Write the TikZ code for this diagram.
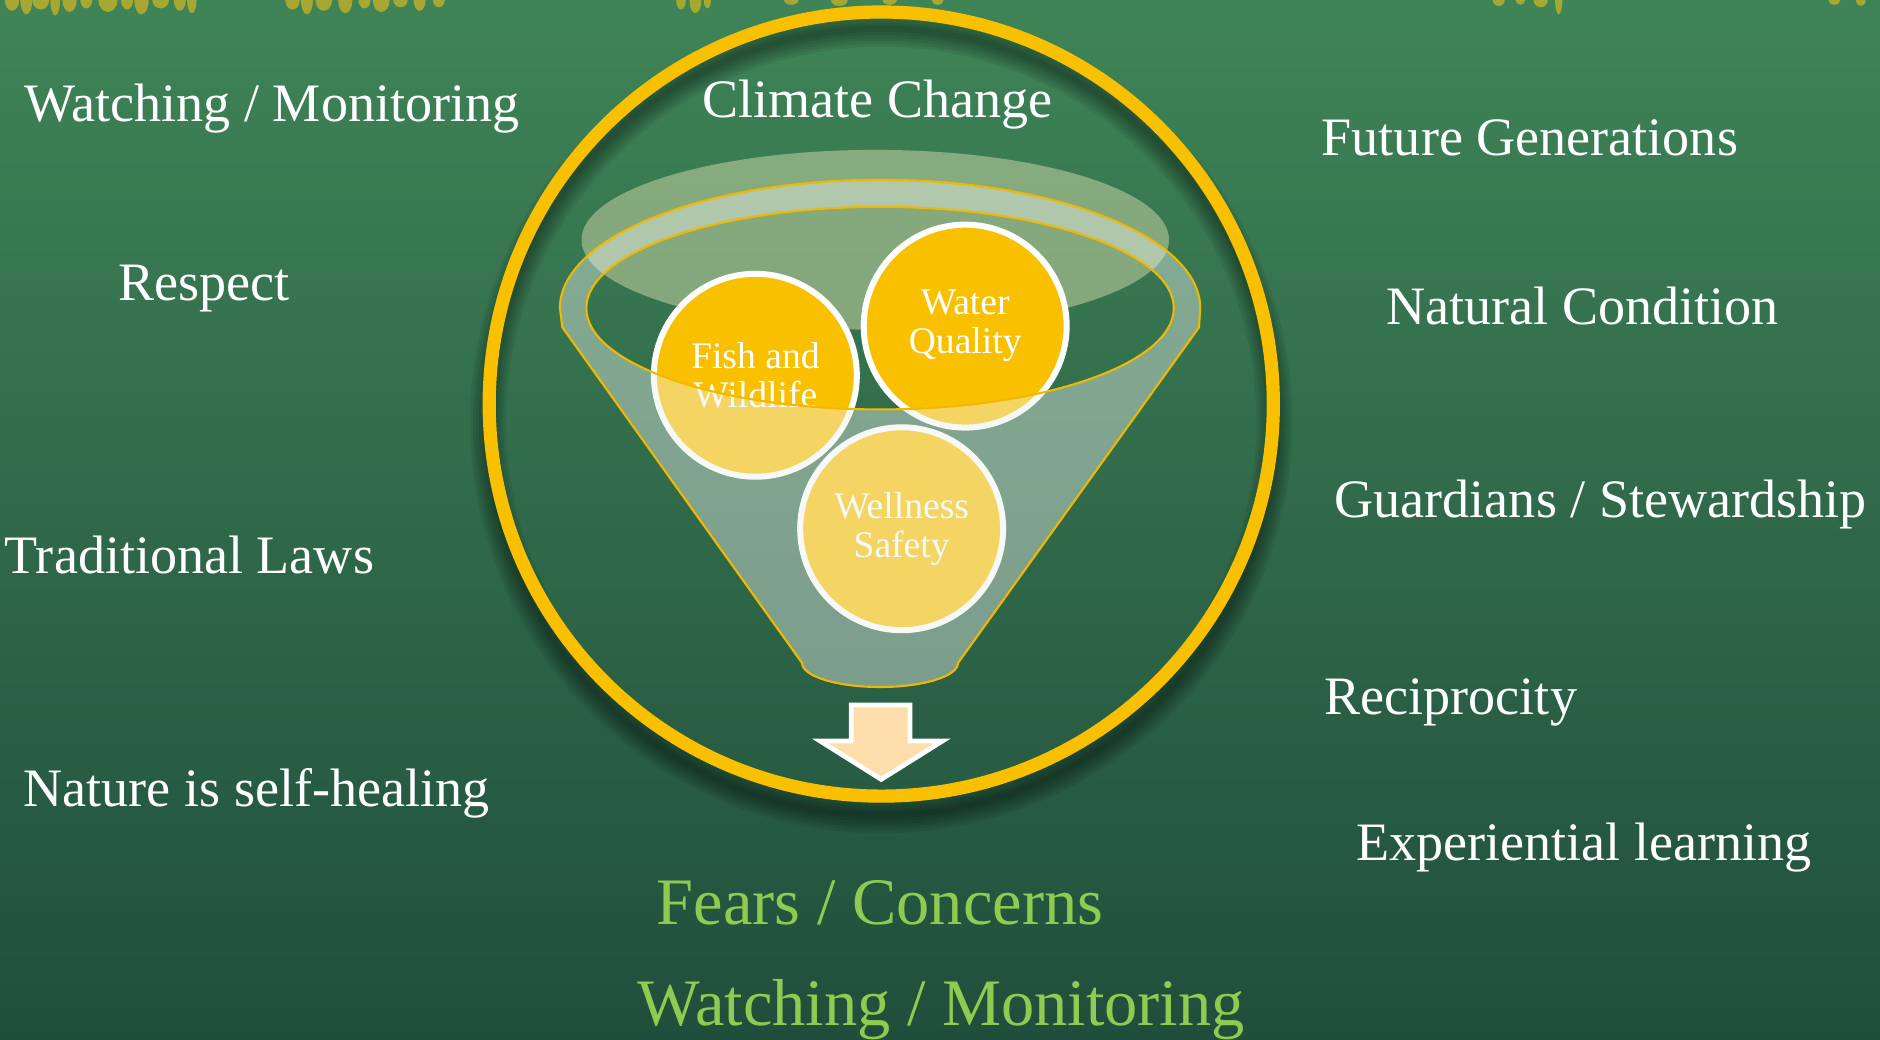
\documentclass[tikz,border=0pt]{standalone}
\usepackage{fontspec}
\setmainfont{Liberation Serif}
\usetikzlibrary{positioning, calc}
\definecolor{boardtop}{RGB}{63,132,87}
\definecolor{boardmid}{RGB}{44,104,72}
\definecolor{boardbot}{RGB}{32,78,60}
\definecolor{ringyellow}{RGB}{249,192,0}
\definecolor{rimline}{RGB}{240,184,0}
\definecolor{chalkgreen}{RGB}{142,203,80}
\definecolor{chalkyellow}{RGB}{236,192,24}
\definecolor{arrowpeach}{RGB}{253,221,172}
\definecolor{capcolor}{RGB}{220,225,175}
\definecolor{glasscolor}{RGB}{238,242,238}
\tikzset{
  sidelabel/.style={text=white, anchor=base, inner sep=0pt, font=\fontsize{15.4}{18}\selectfont},
  footlabel/.style={text=chalkgreen, anchor=base, inner sep=0pt, font=\fontsize{18.9}{22}\selectfont},
  bubble/.style={
    circle, draw=white, fill=ringyellow, line width=0.6mm, minimum size=20.3mm,
    inner sep=0pt, align=center, text=white, font=\fontsize{10.7}{11.1}\selectfont
  },
  ring/.style={draw=ringyellow, line width=1.32mm},
  rim/.style={draw=rimline, line width=0.6pt},
  chalk/.style={fill=chalkyellow, opacity=.6}
}

\begin{document}
\begin{tikzpicture}[x=0.012cm, y=-0.012cm]

    % Board
    \useasboundingbox (0,0) rectangle (1568,867);
    \fill[top color=boardtop, middle color=boardmid, bottom color=boardbot] (0,0) rectangle (1568,867);
    \foreach \x/\l/\w in {10/9/6,22/12/5,34/8/7,46/13/4,58/10/6,72/7/5,90/10/8,106/8/5,118/12/6,134/7/7,150/9/5,160/11/4,
                          244/8/6,256/12/5,270/9/7,288/11/6,304/7/5,318/10/7,334/6/6,350/9/5,366/6/5,
                          568/8/4,580/11/5,590/7/3,660/4/6,700/5/7,742/4/6,782/4/5,
                          1250/5/5,1268/4/4,1285/6/6,1300/12/3,1530/4/5,1552/5/4}
      \fill[chalk] (\x,0) ellipse[x radius=\w, y radius=\l];

    % Shadow and ring
    \foreach \w in {0.6,1.2,...,3.6}
      \draw[black, opacity=.07, line width=\w mm] (735,352) circle[radius=328];
    \draw[ring] (735,337) circle[radius=327];

    % Funnel cap
    \fill[capcolor, opacity=.47] (730,200) ellipse[x radius=245, y radius=75];

    % Bubbles
    \node[bubble] (fish) at (630,313) {Fish and\\Wildlife};
    \node[bubble] (water) at (805,272) {Water\\Quality};
    \node[bubble] (wellness) at (752,441) {Wellness\\Safety};

    % Funnel body
    \fill[glasscolor, opacity=.42, even odd rule]
      (467,257) arc[start angle=180, end angle=360, x radius=267, y radius=107]
      -- (1000,273) -- (799,553)
      arc[start angle=0, end angle=180, x radius=65, y radius=20]
      -- (469,273) -- cycle
      (734,257) ellipse[x radius=245, y radius=84.5];
    \draw[rim]
      (467,257) arc[start angle=180, end angle=360, x radius=267, y radius=107]
      -- (1000,273) -- (799,553)
      arc[start angle=0, end angle=180, x radius=65, y radius=20]
      -- (469,273) -- cycle;
    \draw[rim] (734,257) ellipse[x radius=245, y radius=84.5];

    % Arrow
    \draw[white, fill=arrowpeach, line width=0.48mm, line join=miter]
      (710,588) -- (759,588) -- (759,618) -- (786,618) -- (735,650) -- (684,618) -- (710,618) -- cycle;

    % Labels
    \node[sidelabel] (climate) at (732,98) {Climate Change};
    \node[sidelabel] (watchL) at (227,101) {Watching / Monitoring};
    \node[sidelabel] (respect) at (170,251) {Respect};
    \node[sidelabel] (laws) at (158,478) {Traditional Laws};
    \node[sidelabel] (healing) at (214,673) {Nature is self-healing};
    \node[sidelabel] (future) at (1276,130) {Future Generations};
    \node[sidelabel] (natural) at (1320,271) {Natural Condition};
    \node[sidelabel] (guardians) at (1335,432) {Guardians / Stewardship};
    \node[sidelabel] (reciprocity) at (1210,596) {Reciprocity};
    \node[sidelabel] (learning) at (1321,718) {Experiential learning};
    \node[footlabel] (fears) at (734,771) {Fears / Concerns};
    \node[footlabel] (watchB) at (785,855) {Watching / Monitoring};

\end{tikzpicture}
\end{document}
